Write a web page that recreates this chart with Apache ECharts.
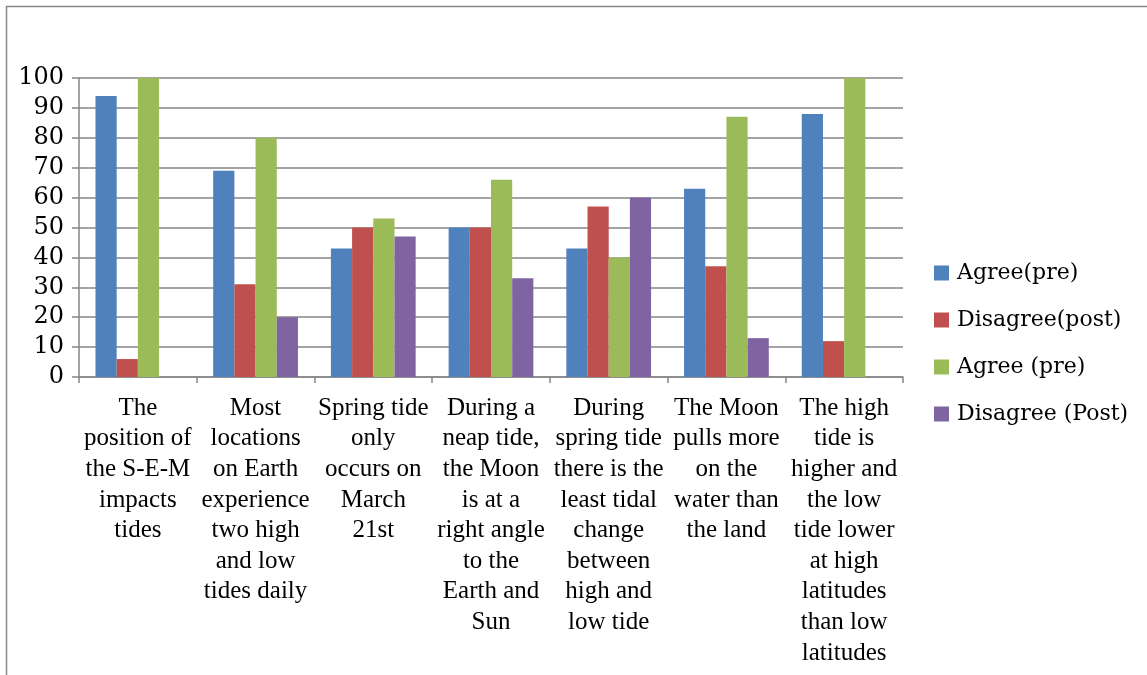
<!DOCTYPE html>
<html>
<head>
<meta charset="utf-8">
<script src="https://cdn.jsdelivr.net/npm/echarts@6/dist/echarts.min.js"></script>
<style>
html,body{margin:0;padding:0;background:#fff;}
#c{width:1147px;height:675px;}
</style>
</head>
<body>
<div id="c"></div>
<script>
const categories = [
  "The\nposition of\nthe S-E-M\nimpacts\ntides",
  "Most\nlocations\non Earth\nexperience\ntwo high\nand low\ntides daily",
  "Spring tide\nonly\noccurs on\nMarch\n21st",
  "During a\nneap tide,\nthe Moon\nis at a\nright angle\nto the\nEarth and\nSun",
  "During\nspring tide\nthere is the\nleast tidal\nchange\nbetween\nhigh and\nlow tide",
  "The Moon\npulls more\non the\nwater than\nthe land",
  "The high\ntide is\nhigher and\nthe low\ntide lower\nat high\nlatitudes\nthan low\nlatitudes"
];
const seriesNames = ["Agree(pre)", "Disagree(post)", "Agree (pre)", "Disagree (Post)"];
const agreePre = [94, 69, 43, 50, 43, 63, 88];
const disagreePost = [6, 31, 50, 50, 57, 37, 12];
const agreePre2 = [100, 80, 53, 66, 40, 87, 100];
const disagreePost2 = [0, 20, 47, 33, 60, 13, 0];
const yTicks = [0, 10, 20, 30, 40, 50, 60, 70, 80, 90, 100];
const colors = ["#4F81BD", "#C0504D", "#9BBB59", "#8064A2"];

const font = "'Liberation Serif', 'DejaVu Serif', serif";
const font2 = "'DejaVu Serif', 'Liberation Serif', serif";
const chart = echarts.init(document.getElementById('c'));
const data = [agreePre, disagreePost, agreePre2, disagreePost2];
chart.setOption({
  animation: false,
  color: colors,
  textStyle: {fontFamily: font},
  graphic: [{
    type: 'rect', silent: true,
    shape: {x: 6.5, y: 6.5, width: 1300, height: 800},
    style: {fill: 'none', stroke: '#888', lineWidth: 1.5}
  }],
  grid: {left: 79, right: 244, top: 78, bottom: 298, containLabel: false},
  legend: {
    orient: 'vertical', left: 934, top: 262, padding: 0,
    itemWidth: 15, itemHeight: 15, itemGap: 25,
    icon: 'rect',
    textStyle: {fontFamily: font2, fontSize: 22, lineHeight: 22, color: '#000', padding: [0, 0, 0, 3]},
    data: seriesNames
  },
  xAxis: {
    type: 'category', data: categories,
    axisLine: {lineStyle: {color: '#868686', width: 1.5}},
    axisTick: {show: true, length: 6, alignWithLabel: false, lineStyle: {color: '#868686', width: 1.5}},
    axisLabel: {interval: 0, fontFamily: font, fontSize: 25, lineHeight: 30.6, color: '#000', margin: 16}
  },
  yAxis: {
    type: 'value', min: 0, max: 100, interval: 10,
    axisLine: {show: true, lineStyle: {color: '#868686', width: 1.5}},
    axisTick: {show: true, length: 7, lineStyle: {color: '#868686', width: 1.5}},
    splitLine: {lineStyle: {color: '#868686', width: 1.5}},
    axisLabel: {fontFamily: font2, fontSize: 24, color: '#000', margin: 15,
      formatter: v => yTicks.includes(v) ? String(v) : ''}
  },
  series: seriesNames.map((n, i) => ({
    name: n, type: 'bar', data: data[i],
    barGap: '0%', barCategoryGap: '28%',
    itemStyle: {color: colors[i]}
  }))
});
</script>
</body>
</html>
